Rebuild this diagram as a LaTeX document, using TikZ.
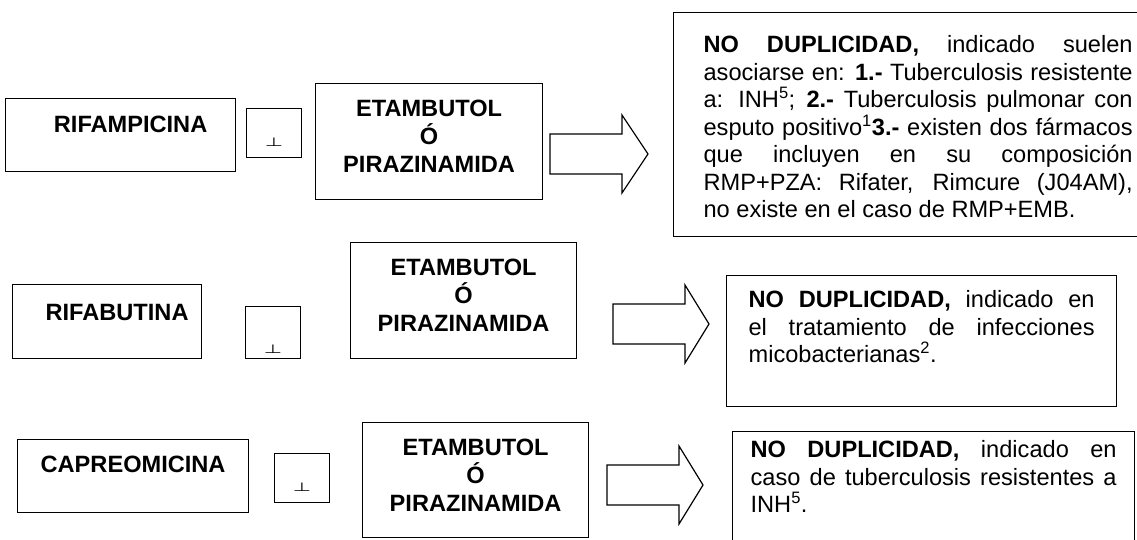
\documentclass[tikz,border=0pt]{standalone}
\usepackage{fontspec}
\setmainfont{Liberation Sans}
\usepackage{graphicx}
\usetikzlibrary{positioning}

\tikzset{
  droga/.style={draw,line width=1.2pt,inner sep=0pt,anchor=north west,font=\fontsize{23.6}{28}\selectfont\bfseries},
  masbox/.style={draw,line width=1.2pt,inner sep=0pt,anchor=north west,minimum width=55pt,font=\fontsize{23.6}{28}\selectfont},
  etambox/.style={draw,line width=1.2pt,inner sep=0pt,anchor=north west,text width=227pt,align=center,text height=33pt,text depth=83pt,font=\fontsize{23.6}{28}\selectfont\bfseries},
  nodup/.style={draw,line width=1.2pt,inner ysep=0pt,anchor=north west,align=justify,font=\fontsize{23.6}{27.5}\selectfont}
}
\newcommand{\flecha}[2]{\draw[line width=1.2pt] (#1) ++(0,-20) -- ++(72,0) -- ++(0,-19) -- ++(#2,39) -- ++(-#2,39) -- ++(0,-19) -- ++(-72,0) -- cycle;}
\newcommand{\mas}{\scalebox{0.8}[0.5]{\boldmath$\perp$}}

\begin{document}
\begin{tikzpicture}[x=1pt,y=-1pt]
\useasboundingbox (0,0) rectangle (1137,539);
\node[droga,minimum width=230pt,text height=34pt,text depth=39pt] (rifampicina) at (5,98) {\hspace*{20pt}RIFAMPICINA};
\node[masbox,text height=38pt,text depth=11pt] (mas1) at (246,108) {\mas};
\node[etambox] (etamb1) at (315,83) {ETAMBUTOL\\Ó\\PIRAZINAMIDA};
\coordinate (f1) at (550,154);
\flecha{f1}{26}
\node[nodup,inner xsep=30pt,text width=429pt,text height=40pt,text depth=184pt] (nodup1) at (673,12) {\textbf{NO DUPLICIDAD,} indicado suelen\linebreak asociarse en: \textbf{1.-} Tuberculosis resistente\linebreak a: INH\textsuperscript{5}; \textbf{2.-} Tuberculosis pulmonar con\linebreak esputo positivo\textsuperscript{1}\textbf{3.-} existen dos fármacos\linebreak que incluyen en su composición\linebreak RMP+PZA: Rifater, Rimcure (J04AM),\linebreak no existe en el caso de RMP+EMB.};

\node[droga,minimum width=189pt,text height=36pt,text depth=38pt] (rifabutina) at (12,284) {\hspace*{20pt}RIFABUTINA};
\node[masbox,text height=47pt,text depth=5pt] (mas2) at (245,306) {\mas};
\node[etambox,text width=226pt] (etamb2) at (350,242) {ETAMBUTOL\\Ó\\PIRAZINAMIDA};
\coordinate (f2) at (613,324);
\flecha{f2}{24}
\node[nodup,inner xsep=22pt,text width=346pt,text height=32pt,text depth=99pt] (nodup2) at (726,275) {\textbf{NO DUPLICIDAD,} indicado en\linebreak el tratamiento de infecciones\linebreak micobacterianas\textsuperscript{2}.};

\node[droga,minimum width=231pt,text height=33pt,text depth=40pt] (capreomicina) at (17,439) {CAPREOMICINA};
\node[masbox,text height=38pt,text depth=11pt] (mas3) at (274,453) {\mas};
\node[etambox,text width=226pt,text depth=82pt] (etamb3) at (362,422) {ETAMBUTOL\\Ó\\PIRAZINAMIDA};
\coordinate (f3) at (607,485);
\flecha{f3}{24}
\node[nodup,inner xsep=18pt,text width=366pt,text height=26pt,text depth=88pt] (nodup3) at (732,431) {\textbf{NO DUPLICIDAD,} indicado en\linebreak caso de tuberculosis resistentes a\linebreak INH\textsuperscript{5}.};
\end{tikzpicture}
\end{document}
